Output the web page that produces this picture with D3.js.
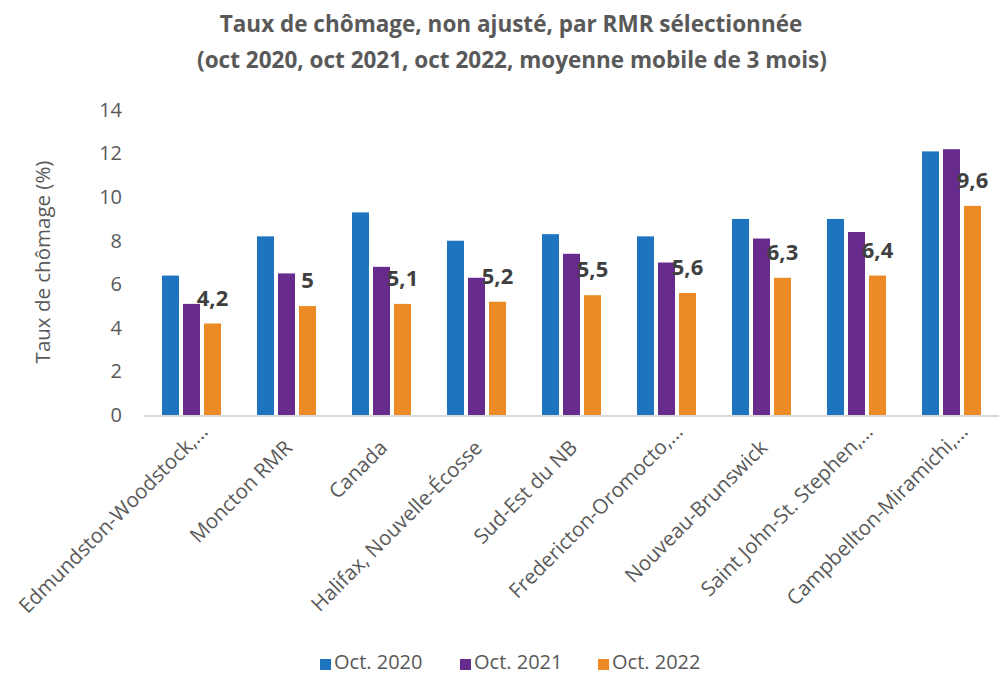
<!DOCTYPE html>
<html><head><meta charset="utf-8">
<script src="https://cdn.jsdelivr.net/npm/d3@7"></script>
<style>body{margin:0;background:#fff}svg{display:block}</style>
</head><body>
<svg id="c" width="1002" height="675"></svg>
<script>
const categories = ["Edmundston-Woodstock,...","Moncton RMR","Canada","Halifax, Nouvelle-Écosse","Sud-Est du NB","Fredericton-Oromocto,...","Nouveau-Brunswick","Saint John-St. Stephen,...","Campbellton-Miramichi,..."];
const seriesNames = ["Oct. 2020","Oct. 2021","Oct. 2022"];
const oct2020 = [6.4,8.2,9.3,8.0,8.3,8.2,9.0,9.0,12.1];
const oct2021 = [5.1,6.5,6.8,6.3,7.4,7.0,8.1,8.4,12.2];
const oct2022 = [4.2,5.0,5.1,5.2,5.5,5.6,6.3,6.4,9.6];
const yTicks = [0,2,4,6,8,10,12,14];
const colors = ["#1f74bf","#672b8e","#ec8b25"];
const seriesValues = [oct2020,oct2021,oct2022];

const svg = d3.select("#c");
const font = "'Open Sans', sans-serif";
const textCol = "#595959";
const pLeft=144, pRight=999, pTop=110, pBottom=415;

const x = d3.scaleBand().domain(categories).range([pLeft,pRight]).paddingInner(0).paddingOuter(0);
const y = d3.scaleLinear().domain([0,14]).range([pBottom,pTop]);
const barStep = 21, barW = 17;

// title
const title = svg.append("text").attr("text-anchor","middle").attr("font-family",font)
  .attr("font-weight","bold").attr("font-size",22.5).attr("fill",textCol);
title.append("tspan").attr("x",511).attr("y",32).text("Taux de chômage, non ajusté, par RMR sélectionnée");
title.append("tspan").attr("x",512).attr("y",68).text("(oct 2020, oct 2021, oct 2022, moyenne mobile de 3 mois)");

// y axis
const yAxis = svg.append("g").attr("transform",`translate(${pLeft},0)`)
  .call(d3.axisLeft(y).tickValues(yTicks).tickSize(0).tickPadding(22).tickFormat(d3.format("d")));
yAxis.select(".domain").remove();
yAxis.selectAll("text").attr("font-family",font).attr("font-size",20).attr("fill",textCol);

svg.append("text").attr("transform","translate(50,262) rotate(-90)").attr("text-anchor","middle")
  .attr("font-family",font).attr("font-size",20.5).attr("fill",textCol).text("Taux de chômage (%)");

// bars
const groups = svg.append("g");
seriesValues.forEach((vals,si)=>{
  groups.selectAll(null).data(vals).join("rect")
    .attr("x",(d,i)=>x(categories[i])+x.bandwidth()/2 + (si-1)*barStep - barW/2)
    .attr("y",d=>y(d)).attr("width",barW).attr("height",d=>y(0)-y(d))
    .attr("fill",colors[si]);
});

// labels on Oct 2022
svg.selectAll(".lbl").data(oct2022).join("text").attr("class","lbl")
  .attr("x",(d,i)=>x(categories[i])+x.bandwidth()/2 + barStep)
  .attr("y",d=>y(d)-18).attr("text-anchor","middle")
  .attr("font-family",font).attr("font-weight","bold").attr("font-size",22).attr("fill","#404040")
  .text(d=>d3.format(".1~f")(d).replace(".",","));

// x axis line
svg.append("line").attr("x1",pLeft).attr("x2",pRight).attr("y1",pBottom+1).attr("y2",pBottom+1)
  .attr("stroke","#d9d9d9").attr("stroke-width",2);

// x labels
svg.selectAll(".xl").data(categories).join("text").attr("class","xl")
  .attr("transform",d=>{
    const c = x(d)+x.bandwidth()/2;
    const trunc = d.endsWith("...");
    return trunc ? `translate(${c+17.5},433) rotate(-45)` : `translate(${c+7},449) rotate(-45)`;
  })
  .attr("text-anchor","end").attr("font-family",font).attr("font-size",20.5).attr("fill",textCol)
  .text(d=>d);

// legend
const lg = svg.append("g");
const lx = [320,460,598];
seriesNames.forEach((n,i)=>{
  lg.append("rect").attr("x",lx[i]).attr("y",659).attr("width",11).attr("height",11).attr("fill",colors[i]);
  lg.append("text").attr("x",lx[i]+14).attr("y",669).attr("font-family",font).attr("font-size",20)
    .attr("fill",textCol).text(n);
});
</script>
</body></html>
